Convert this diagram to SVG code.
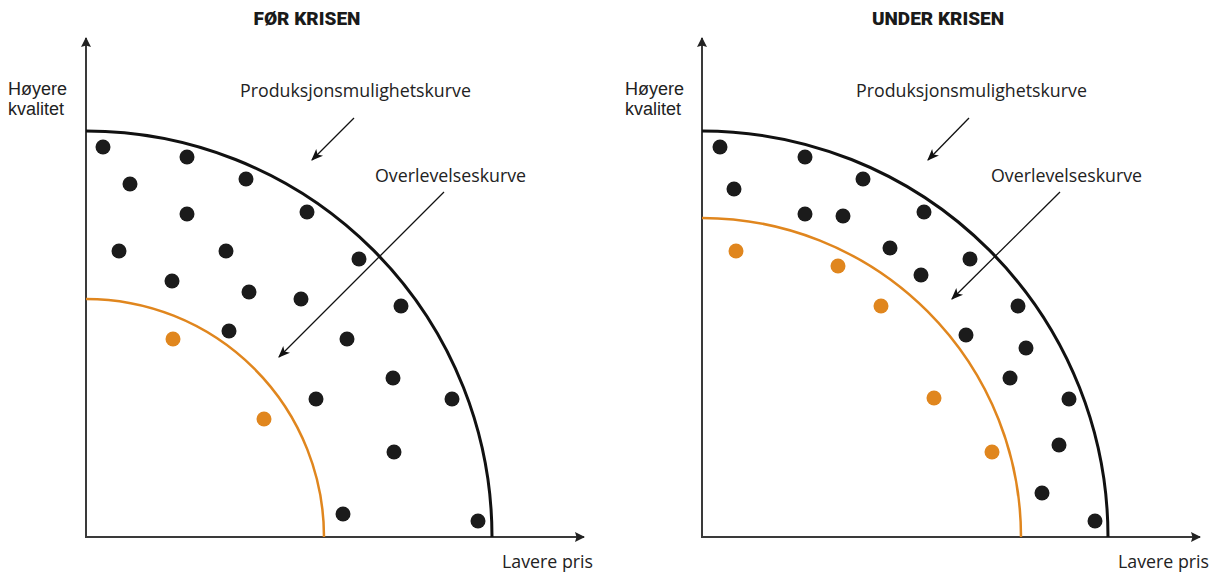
<svg xmlns="http://www.w3.org/2000/svg" width="1225" height="573" viewBox="0 0 1225 573">
  <style>
    .title { font-family: "Roboto", "Liberation Sans", sans-serif; font-weight: 900; font-size: 19px; fill: #1a1a1a; text-anchor: middle; }
    .lbl { font-family: "Open Sans", "Liberation Sans", sans-serif; font-size: 17.8px; fill: #222; }
    .ylbl { font-family: "Liberation Sans", "Open Sans", sans-serif; font-size: 18px; fill: #222; }
    .axis { stroke: #3a3a3a; stroke-width: 2; fill: none; }
    .ppf { stroke: #111; stroke-width: 3; fill: none; }
    .surv { stroke: #e0861e; stroke-width: 2.5; fill: none; }
    .pointer { stroke: #111; stroke-width: 1.3; fill: none; }
    .dot { fill: #1b1b1b; }
    .odot { fill: #e0861e; }
  </style>
  <defs>
    <marker id="axisHead" viewBox="0 0 10 10" refX="9" refY="5" markerWidth="11" markerHeight="10" markerUnits="userSpaceOnUse" orient="auto">
      <path d="M0,0 L10,5 L0,10 L1.5,5 z" fill="#222"/>
    </marker>
    <marker id="ptrHead" viewBox="0 0 10 10" refX="9" refY="5" markerWidth="12" markerHeight="12" markerUnits="userSpaceOnUse" orient="auto">
      <path d="M0,1 L10,5 L0,9 L2.5,5 z" fill="#111"/>
    </marker>
  </defs>

  <!-- Left panel: before the crisis -->
  <g id="panel-before">
    <text class="title" x="307" y="25">FØR KRISEN</text>
    <g id="axes-before">
      <path class="axis" d="M86,537 V38" marker-end="url(#axisHead)"/>
      <path class="axis" d="M85,537 H584" marker-end="url(#axisHead)"/>
      <text class="ylbl"><tspan x="8" y="94.5">Høyere</tspan><tspan x="8" y="115">kvalitet</tspan></text>
      <text class="lbl" x="502" y="568">Lavere pris</text>
    </g>
    <g id="ppf-before">
      <path class="ppf" d="M86,131 A406,406 0 0 1 492,537"/>
      <text class="lbl" x="240" y="97">Produksjonsmulighetskurve</text>
    </g>
    <g id="survival-before">
      <path class="surv" d="M86,299 A238,238 0 0 1 324,537"/>
      <text class="lbl" x="375" y="182">Overlevelseskurve</text>
    </g>
    <g id="dots-before">
      <circle class="dot" cx="103" cy="147" r="7.5"/>
      <circle class="dot" cx="187" cy="157" r="7.5"/>
      <circle class="dot" cx="130" cy="184" r="7.5"/>
      <circle class="dot" cx="246" cy="179" r="7.5"/>
      <circle class="dot" cx="187" cy="214" r="7.5"/>
      <circle class="dot" cx="307" cy="212" r="7.5"/>
      <circle class="dot" cx="119" cy="251" r="7.5"/>
      <circle class="dot" cx="226" cy="251" r="7.5"/>
      <circle class="dot" cx="359" cy="259" r="7.5"/>
      <circle class="dot" cx="172" cy="281" r="7.5"/>
      <circle class="dot" cx="249" cy="292" r="7.5"/>
      <circle class="dot" cx="301" cy="299" r="7.5"/>
      <circle class="dot" cx="401" cy="306" r="7.5"/>
      <circle class="dot" cx="229" cy="331" r="7.5"/>
      <circle class="dot" cx="347" cy="339" r="7.5"/>
      <circle class="dot" cx="393" cy="378" r="7.5"/>
      <circle class="dot" cx="316" cy="399" r="7.5"/>
      <circle class="dot" cx="452" cy="399" r="7.5"/>
      <circle class="dot" cx="394" cy="452" r="7.5"/>
      <circle class="dot" cx="343" cy="514" r="7.5"/>
      <circle class="dot" cx="478" cy="521" r="7.5"/>
      <circle class="odot" cx="173" cy="339" r="7.5"/>
      <circle class="odot" cx="264" cy="419" r="7.5"/>
    </g>
  </g>

  <!-- Right panel: during the crisis -->
  <g id="panel-during">
    <text class="title" x="938" y="25">UNDER KRISEN</text>
    <g id="axes-during">
      <path class="axis" d="M702,537 V38" marker-end="url(#axisHead)"/>
      <path class="axis" d="M701,537 H1200" marker-end="url(#axisHead)"/>
      <text class="ylbl"><tspan x="625" y="94.5">Høyere</tspan><tspan x="625" y="115">kvalitet</tspan></text>
      <text class="lbl" x="1118" y="568">Lavere pris</text>
    </g>
    <g id="ppf-during">
      <path class="ppf" d="M702,131 A406,406 0 0 1 1108,537"/>
      <text class="lbl" x="856" y="97">Produksjonsmulighetskurve</text>
    </g>
    <g id="survival-during">
      <path class="surv" d="M702,218 A319,319 0 0 1 1021,537"/>
      <text class="lbl" x="991" y="182">Overlevelseskurve</text>
    </g>
    <g id="dots-during">
      <circle class="dot" cx="720" cy="147" r="7.5"/>
      <circle class="dot" cx="805" cy="157" r="7.5"/>
      <circle class="dot" cx="734" cy="189" r="7.5"/>
      <circle class="dot" cx="863" cy="179" r="7.5"/>
      <circle class="dot" cx="805" cy="214" r="7.5"/>
      <circle class="dot" cx="843" cy="216" r="7.5"/>
      <circle class="dot" cx="924" cy="212" r="7.5"/>
      <circle class="dot" cx="890" cy="248" r="7.5"/>
      <circle class="dot" cx="970" cy="259" r="7.5"/>
      <circle class="dot" cx="921" cy="275" r="7.5"/>
      <circle class="dot" cx="1018" cy="306" r="7.5"/>
      <circle class="dot" cx="966" cy="335" r="7.5"/>
      <circle class="dot" cx="1026" cy="348" r="7.5"/>
      <circle class="dot" cx="1010" cy="378" r="7.5"/>
      <circle class="dot" cx="1069" cy="399" r="7.5"/>
      <circle class="dot" cx="1059" cy="445" r="7.5"/>
      <circle class="dot" cx="1042" cy="493" r="7.5"/>
      <circle class="dot" cx="1095" cy="521" r="7.5"/>
      <circle class="odot" cx="736" cy="251" r="7.5"/>
      <circle class="odot" cx="838" cy="266" r="7.5"/>
      <circle class="odot" cx="881" cy="306" r="7.5"/>
      <circle class="odot" cx="934" cy="398" r="7.5"/>
      <circle class="odot" cx="992" cy="452" r="7.5"/>
    </g>
  </g>

  <!-- Label pointers -->
  <g id="connectors">
    <path class="pointer" d="M354,118 L312,160" marker-end="url(#ptrHead)"/>
    <path class="pointer" d="M444,192 L279,357" marker-end="url(#ptrHead)"/>
    <path class="pointer" d="M969,118 L928,160" marker-end="url(#ptrHead)"/>
    <path class="pointer" d="M1060,192 L952,299" marker-end="url(#ptrHead)"/>
  </g>
</svg>
